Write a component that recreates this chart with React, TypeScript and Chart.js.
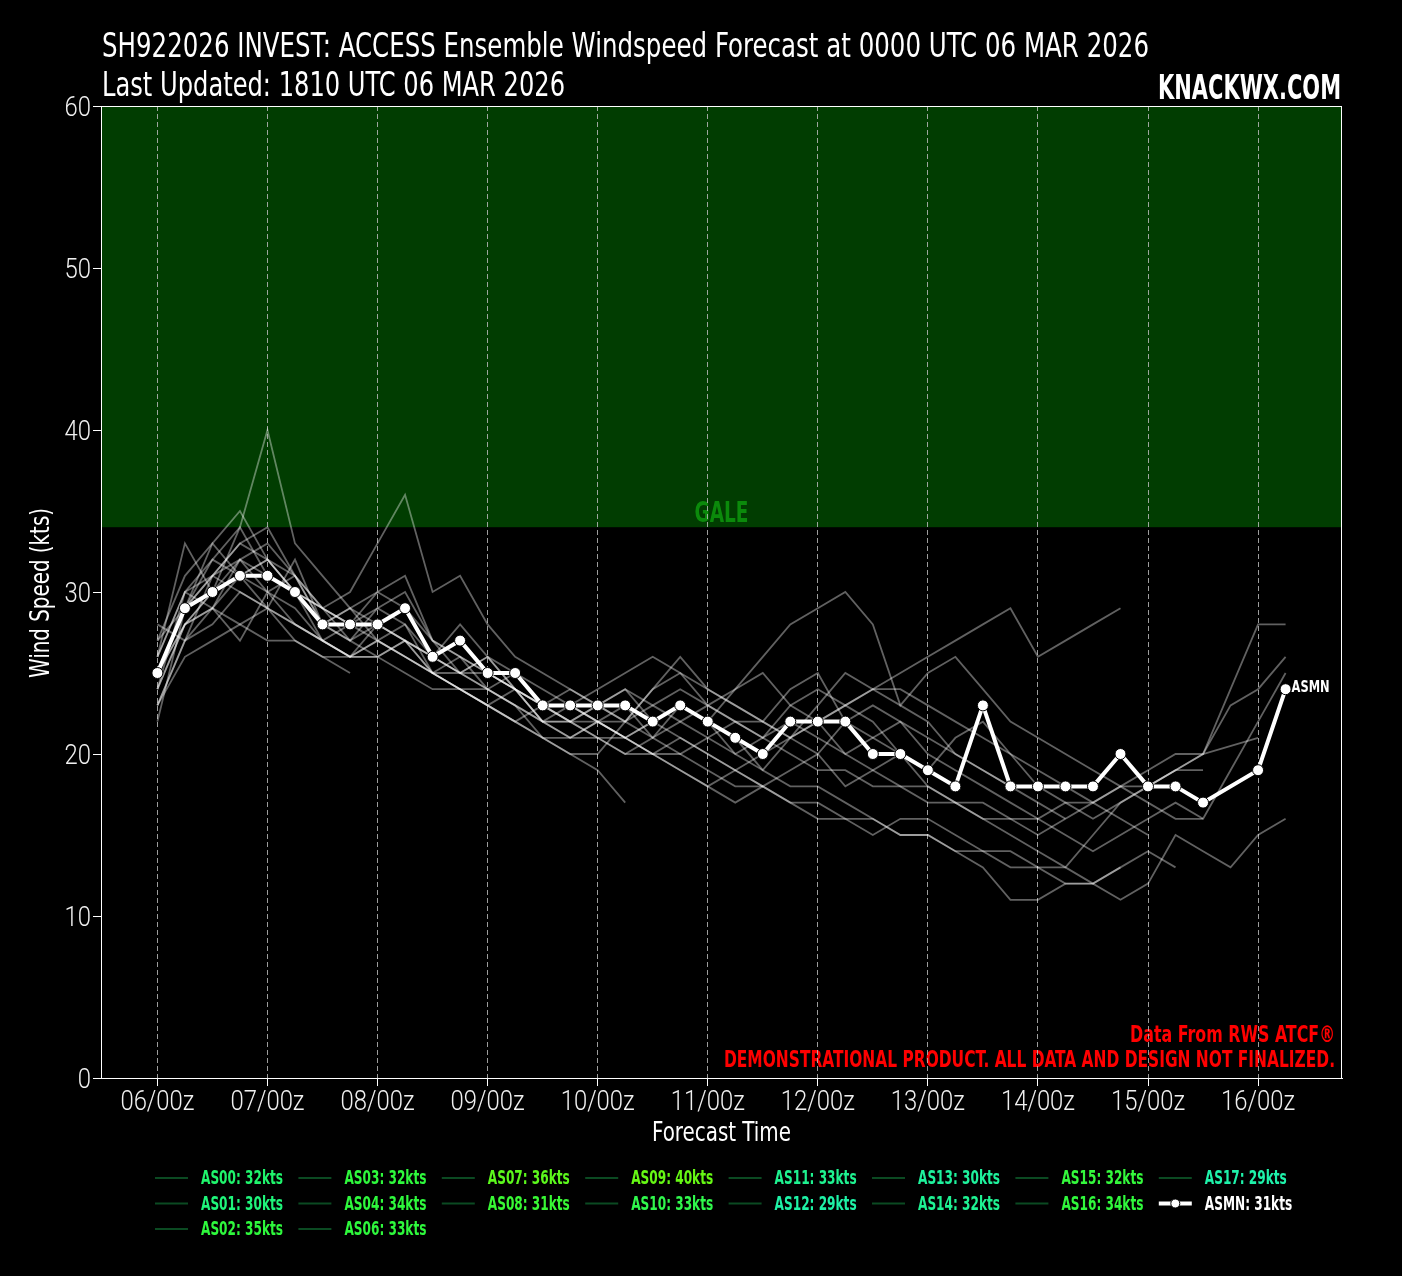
import React, { useEffect, useRef } from "react";
import { Chart, registerables } from "chart.js";

Chart.register(...registerables);

const FONT = '"Liberation Sans Narrow", "DejaVu Sans Condensed", "Arial Narrow", sans-serif';
const LIGHT_FONT = 'Roboto, "DejaVu Sans", sans-serif';

// ---- data ----
const HOURS = [0, 6, 12, 18, 24, 30, 36, 42, 48, 54, 60, 66, 72, 78, 84, 90, 96, 102, 108, 114, 120, 126, 132, 138, 144, 150, 156, 162, 168, 174, 180, 186, 192, 198, 204, 210, 216, 222, 228, 234, 240, 246];
const TICK_HOURS = [0, 24, 48, 72, 96, 120, 144, 168, 192, 216, 240];
const TICK_LABELS = ["06/00z", "07/00z", "08/00z", "09/00z", "10/00z", "11/00z", "12/00z", "13/00z", "14/00z", "15/00z", "16/00z"];
const Y_TICKS = [0, 10, 20, 30, 40, 50, 60];
const GALE_THRESHOLD = 34;

const AS00 = [26, 30, 29, 32, 30, 31, 28, 27, 29, 28, 25, 26, 25, 24, 23, 22, 22, 21, 22, 23, 22, 20, 19, 21, 20, 18, 19, 20, 18, 17, 16, 15, 14, 13, 12, 13];
const AS01 = [24, 28, 29, 27, 30, 28, 27, 26, 27, 26, 25, 24, 23, 24, 22, 21, 22, 23, 21, 20, 19, 18, 18];
const AS02 = [27, 31, 33, 35, 32, 30, 29, 28, 27, 26, 25, 25, 24, 23, 21, 20, 20, 22, 24, 25, 24, 23, 22, 21, 22, 23, 24, 24, 23, 22, 21, 20, 19, 18, 17, 18, 19, 20, 20, null, 21];
const AS03 = [25, 29, 32, 31, 30, 29, 27, 28, 28, 27, 25, 24, 23, 22, 23, 22, 21, 21, 20, 19, 18, 17, 18, 17, 16, 16, 15, 16, 16, 15, 14, 14, 13, 13, 15, 17, 18, 19, 20, 24, 28, 28];
const AS04 = [23, 27, 31, 33, 34, 31, 29, 28, 30, 31, 27, 26, 24, 23, 22, 22, 23, 24, 23, 22, 21, 20, 21, 22, 21, 20, 19, 18, 18, 17, 17, 16, 16, 17, 17, 16, 15];
const AS06 = [26, 33, 30, 31, 29, 32, 28, 27, 26, 27, 26, 25, 24, 25, 24, 23, 22, 22, 23, 24, 23, 22, 21, 20, 19, 19, 18, 18, 17, 17, 16, 16, 15, 16, 17, 18, 18, 19, 20, 23, 24, 26];
const AS07 = [25, 29, 31, 32, 33, 31, 29, 30, 33, 36, 30, 31, 28, 26, 25, 24, 23, 22, 24, 26, 24, 23, 22, 24, 25, 22, 21, 20, 19, 21, 22, 20, 18, 17, 16, 17, 18, 19, 19];
const AS08 = [27, 29, 31, 30, 29, 28, 27, 26, 26, 27, 25, 24, 23, 22, 21, 20, 19, 17];
const AS09 = [25, 28, 30, 34, 40, 33, 31, 29, 28, 27, 26, 27, 25, 24, 22, 22, 21, 20, 21, 23, 22, 21, 19, 18, 18, 17, 16, 15, 15, 14, 14, 13, 13, 12, 12, 13, 14, 13];
const AS10 = [22, 29, 33, 31, 32, 30, 29, 27, 28, 29, 27, 25, 26, 24, 23, 23, 24, 25, 26, 25, 23, 22, 21, 23, 24, 23, 22, 20, 19];
const AS11 = [26, 30, 31, 33, 32, 31, 28, 29, 30, 29, 26, 28, 26, 25, 23, 24, 23, 22, 21, 22, 23, 24, 25, 23, 22, 20, 21, 22, 21, 20, 19, 18, 17, 16];
const AS12 = [23, 27, 29, 28, 27, 27, 26, 25];
const AS13 = [28, 27, 28, 30, 29, 27, 26, 26, 28, 27, 26, 25, 25, 24, 23, 23, 22, 21, 22, 23, 22, 24, 26, 28, 29, 30, 28, 23, 25, 26, 24, 22, 21, 20, 19, 18, 17, 16, 16, 19, 22, 25];
const AS14 = [25, 28, 29, 31, 32, 30, 28, 29, 27, 28, 26, 25, 26, 24, 22, 23, 22, 21, 20, 20, 21, 22, 22, 21, 23, 25, 24, 23, 22, 20, 19, 18];
const AS15 = [24, 28, 30, 32, 31, 30, 27, 26, 27, 26, 25, 24, 24, 23, 22, 21, 21, 20, 20, 21, 20, 19, 18, 17, 17, 16, 16, 15, 15, 14, 13, 11, 11, 12, 12, 11, 12, 15, 14, 13, 15, 16];
const AS16 = [24, 30, 32, 34, 31, 30, 29, 28, 29, 30, 27, 26, 25, 24, 23, 22, 23, 24, 22, 21, 20, 19, 18, 19, 20, 22, 23, 22, 20, 19, 18, 17, 16, 15, 14, 15, 16, 17, 16];
const AS17 = [23, 26, 27, 28, 29, 28, 27, 26, 26, 25, 24, 24, 23, 22, 21, 21, 22, 21, 20, 19, 18, 19, 20, 21, 22, 23, 24, 25, 26, 27, 28, 29, 26, 27, 28, 29];
const ASMN = [25, 29, 30, 31, 31, 30, 28, 28, 28, 29, 26, 27, 25, 25, 23, 23, 23, 23, 22, 23, 22, 21, 20, 22, 22, 22, 20, 20, 19, 18, 23, 18, 18, 18, 18, 20, 18, 18, 17, null, 19, 24];

const MEMBER_NAMES = ["AS00", "AS01", "AS02", "AS03", "AS04", "AS06", "AS07", "AS08", "AS09", "AS10", "AS11", "AS12", "AS13", "AS14", "AS15", "AS16", "AS17"];
const MEMBER_VALUES = [AS00, AS01, AS02, AS03, AS04, AS06, AS07, AS08, AS09, AS10, AS11, AS12, AS13, AS14, AS15, AS16, AS17];
const MEAN_NAME = "ASMN";

// ---- styles ----
const MEMBER_TEXT_COLORS = ["#1ff56c", "#1ff57a", "#2ef83c", "#2ef83c", "#2ef83c", "#2ef83c", "#5cf81c", "#38f834", "#66f814", "#30f84c", "#1ef290", "#1ef2a6", "#1ef29c", "#1ef292", "#34f83c", "#30f83c", "#1ef2aa"];

const TITLE = "SH922026 INVEST: ACCESS Ensemble Windspeed Forecast at 0000 UTC 06 MAR 2026";
const SUBTITLE = "Last Updated: 1810 UTC 06 MAR 2026";
const BRAND = "KNACKWX.COM";
const CREDIT = "Data From RWS ATCF®";
const DISCLAIMER = "DEMONSTRATIONAL PRODUCT. ALL DATA AND DESIGN NOT FINALIZED.";

function toPoints(vals: (number | null)[]) {
  return vals.map((v, i) => ({ x: HOURS[i], y: v }));
}

function maxOf(vals: (number | null)[]) {
  let m = -Infinity;
  vals.forEach((v) => {
    if (v !== null && v > m) m = v;
  });
  return m;
}

function scaledText(ctx: CanvasRenderingContext2D, text: string, x: number, y: number, sx: number, align: string) {
  const w = ctx.measureText(text).width * sx;
  const left = align === "left" ? x : align === "right" ? x - w : x - w / 2;
  ctx.save();
  ctx.translate(left, y);
  ctx.scale(sx, 1);
  ctx.textAlign = "left";
  ctx.fillText(text, 0, 0);
  ctx.restore();
}

function fitText(ctx: CanvasRenderingContext2D, text: string, x: number, y: number, width: number, align: string) {
  const sx = width / ctx.measureText(text).width;
  scaledText(ctx, text, x, y, sx, align);
}

const decorPlugin = {
  id: "decor",
  beforeDraw(chart: any) {
    const { ctx, chartArea, scales } = chart;
    ctx.save();
    ctx.fillStyle = "#000000";
    ctx.fillRect(0, 0, chart.width, chart.height);
    const yTop = scales.y.getPixelForValue(60);
    const yGale = scales.y.getPixelForValue(GALE_THRESHOLD);
    ctx.fillStyle = "#013d01";
    ctx.fillRect(chartArea.left, yTop, chartArea.right - chartArea.left, yGale - yTop);
    // GALE label
    ctx.fillStyle = "#0b8a0b";
    ctx.font = `bold 28px ${FONT}`;
    ctx.textBaseline = "alphabetic";
    fitText(ctx, "GALE", (chartArea.left + chartArea.right) / 2, yGale - 5, 54, "center");
    // watermark
    ctx.fillStyle = "#ff0000";
    ctx.font = `bold 23px ${FONT}`;
    fitText(ctx, CREDIT, chartArea.right - 7, 1042, 205, "right");
    fitText(ctx, DISCLAIMER, chartArea.right - 7, 1067, 611, "right");
    ctx.restore();
  },
  afterDraw(chart: any) {
    const { ctx, chartArea, scales } = chart;
    ctx.save();
    // frame
    ctx.strokeStyle = "#ffffff";
    ctx.lineWidth = 1;
    ctx.strokeRect(chartArea.left + 0.5, chartArea.top + 0.5, chartArea.right - chartArea.left - 1, chartArea.bottom - chartArea.top);

    // tick labels (thin condensed look)
    ctx.fillStyle = "#f0f0f0";
    ctx.font = `300 28px ${LIGHT_FONT}`;
    ctx.textBaseline = "alphabetic";
    const tsx = 74 / ctx.measureText(TICK_LABELS[0]).width;
    TICK_HOURS.forEach((h, i) => {
      scaledText(ctx, TICK_LABELS[i], scales.x.getPixelForValue(h), 1110, tsx, "center");
    });
    Y_TICKS.forEach((v) => {
      scaledText(ctx, String(v), chartArea.left - 10, scales.y.getPixelForValue(v) + 10, tsx, "right");
    });

    // titles
    ctx.fillStyle = "#ffffff";
    ctx.font = `34px ${FONT}`;
    fitText(ctx, TITLE, 102, 57, 1047, "left");
    fitText(ctx, SUBTITLE, 102, 96, 463, "left");
    ctx.font = `bold 34px ${FONT}`;
    fitText(ctx, BRAND, 1341, 99, 183, "right");

    // axis titles
    ctx.font = `27px ${FONT}`;
    fitText(ctx, "Forecast Time", (chartArea.left + chartArea.right) / 2, 1141, 139, "center");
    ctx.save();
    ctx.translate(49, (508 + 678) / 2);
    ctx.rotate(-Math.PI / 2);
    fitText(ctx, "Wind Speed (kts)", 0, 0, 170, "center");
    ctx.restore();

    // ASMN end label
    const lastIdx = ASMN.length - 1;
    const px = scales.x.getPixelForValue(HOURS[lastIdx]);
    const py = scales.y.getPixelForValue(ASMN[lastIdx] as number);
    ctx.font = `bold 16px ${FONT}`;
    ctx.textBaseline = "middle";
    fitText(ctx, MEAN_NAME, px + 6, py - 1, 38, "left");

    // legend (column-major, 8 columns)
    const entries = MEMBER_NAMES.map((n, i) => ({
      label: `${n}: ${maxOf(MEMBER_VALUES[i])}kts`,
      text: MEMBER_TEXT_COLORS[i],
      mean: false,
    }));
    entries.push({ label: `${MEAN_NAME}: ${maxOf(ASMN)}kts`, text: "#ffffff", mean: true });
    const ncol = 8;
    const base = Math.floor(entries.length / ncol);
    const extra = entries.length % ncol;
    let k = 0;
    ctx.font = `bold 20px ${FONT}`;
    ctx.textBaseline = "middle";
    const lsx = 82 / ctx.measureText(entries[0].label).width;
    for (let c = 0; c < ncol; c++) {
      const rows = base + (c < extra ? 1 : 0);
      for (let r = 0; r < rows; r++) {
        const e = entries[k++];
        if (!e) continue;
        const lx = 155 + c * 143.4;
        const ly = 1178 + r * 25.5;
        ctx.beginPath();
        ctx.moveTo(lx, ly);
        ctx.lineTo(lx + 33, ly);
        if (e.mean) {
          ctx.strokeStyle = "#ffffff";
          ctx.lineWidth = 4;
          ctx.stroke();
          ctx.beginPath();
          ctx.arc(lx + 16.5, ly, 4.5, 0, Math.PI * 2);
          ctx.fillStyle = "#ffffff";
          ctx.fill();
          ctx.lineWidth = 1;
          ctx.strokeStyle = "#000000";
          ctx.stroke();
        } else {
          ctx.strokeStyle = "#0b4a22";
          ctx.lineWidth = 2;
          ctx.stroke();
        }
        ctx.fillStyle = e.text;
        scaledText(ctx, e.label, lx + 46, ly + 1, lsx, "left");
      }
    }
    ctx.restore();
  },
};

export default function App() {
  const canvasRef = useRef<HTMLCanvasElement | null>(null);

  useEffect(() => {
    if (!canvasRef.current) return;
    const memberSets = MEMBER_VALUES.map((vals, i) => ({
      label: MEMBER_NAMES[i],
      data: toPoints(vals),
      borderColor: "rgba(255,255,255,0.38)",
      borderWidth: 1.8,
      pointRadius: 0,
      pointHoverRadius: 0,
      spanGaps: true,
      tension: 0,
      order: 1,
    }));
    const meanSet = {
      label: MEAN_NAME,
      data: toPoints(ASMN),
      borderColor: "#ffffff",
      borderWidth: 4,
      pointRadius: 5.5,
      pointBackgroundColor: "#ffffff",
      pointBorderColor: "#000000",
      pointBorderWidth: 1,
      spanGaps: true,
      tension: 0,
      order: 0,
    };

    const chart = new Chart(canvasRef.current, {
      type: "line",
      data: { datasets: [meanSet, ...memberSets] as any },
      options: {
        animation: false,
        responsive: true,
        maintainAspectRatio: false,
        layout: { padding: { top: 106, right: 60, bottom: 128, left: 0 } },
        plugins: { legend: { display: false }, tooltip: { enabled: false } },
        events: [],
        scales: {
          x: {
            type: "linear",
            min: -12.3,
            max: 258.3,
            afterBuildTicks: (scale: any) => {
              scale.ticks = TICK_HOURS.map((v) => ({ value: v }));
            },
            afterFit: (scale: any) => {
              scale.height = 70;
            },
            ticks: {
              color: "rgba(0,0,0,0)",
              font: { family: FONT, size: 27 },
              padding: 3,
              maxRotation: 0,
              autoSkip: false,
              callback: (value: any) => {
                const i = TICK_HOURS.indexOf(Number(value));
                return i >= 0 ? TICK_LABELS[i] : "";
              },
            },
            grid: {
              display: true,
              drawOnChartArea: true,
              color: "rgba(185,185,185,0.85)",
              lineWidth: 1,
              tickColor: "#ffffff",
              tickLength: 8,
              tickBorderDash: [],
            } as any,
            border: { display: true, color: "#ffffff", width: 1, dash: [5, 3] },
          },
          y: {
            type: "linear",
            min: 0,
            max: 60,
            afterBuildTicks: (scale: any) => {
              scale.ticks = Y_TICKS.map((v) => ({ value: v }));
            },
            afterFit: (scale: any) => {
              scale.width = 101;
            },
            ticks: {
              color: "rgba(0,0,0,0)",
              font: { family: FONT, size: 27 },
              padding: 3,
            },
            grid: {
              display: true,
              drawOnChartArea: false,
              tickColor: "#ffffff",
              tickLength: 8,
            },
            border: { display: true, color: "#ffffff", width: 1 },
          },
        },
      } as any,
      plugins: [decorPlugin],
    });
    return () => chart.destroy();
  }, []);

  return (
    <div style={{ position: "absolute", left: 0, top: 0, width: 1402, height: 1276, background: "#000" }}>
      <canvas ref={canvasRef} style={{ display: "block" }} />
    </div>
  );
}
